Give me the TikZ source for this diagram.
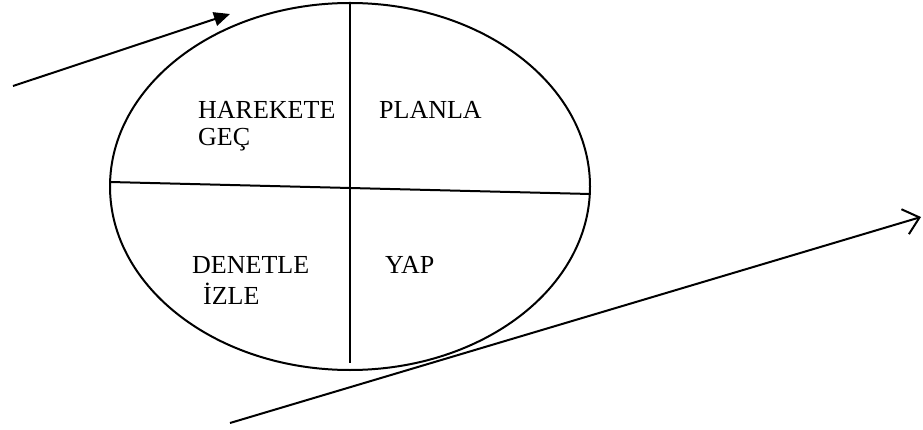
\documentclass[tikz,border=0pt]{standalone}
\usepackage{fontspec}
\setmainfont{Liberation Serif}
\usetikzlibrary{arrows.meta,shapes.geometric}
\tikzset{
  cline/.style={line width=2pt,black},
  clab/.style={anchor=base west,inner sep=0pt,font=\fontsize{26}{30}\selectfont},
  carr/.style={cline,-{Triangle[length=16pt,width=14pt]}},
  oarr/.style={cline,-{Straight Barb[length=15pt,width=26pt,line width=2pt]}},
}
\begin{document}
\begin{tikzpicture}[x=1pt,y=-1pt]
  \useasboundingbox (0,0) rectangle (923,430);
  % cycle
  \node[ellipse,draw,cline,inner sep=0pt,minimum width=480pt,minimum height=367pt] (cyc) at (350,186.5) {};
  \coordinate (vb) at (350,363);
  \coordinate (hl) at (110,182);
  \coordinate (hr) at (590,194);
  \draw[cline] (cyc.north) -- (vb);
  \draw[cline] (hl) -- (hr);
  % labels
  \node[clab] (act) at (198,119) {HAREKETE};
  \node[clab] (actb) at (198,146) {GEÇ};
  \node[clab] (plan) at (379,119) {PLANLA};
  \node[clab] (chk) at (192,273) {DENETLE};
  \node[clab] (chkb) at (203,304) {İZLE};
  \node[clab] (do) at (385,273) {YAP};
  % arrows
  \coordinate (a1) at (13,86);
  \coordinate (a2) at (230,14);
  \coordinate (b1) at (230,423);
  \coordinate (b2) at (921,217);
  \draw[carr] (a1) -- (a2);
  \draw[oarr] (b1) -- (b2);
\end{tikzpicture}
\end{document}
